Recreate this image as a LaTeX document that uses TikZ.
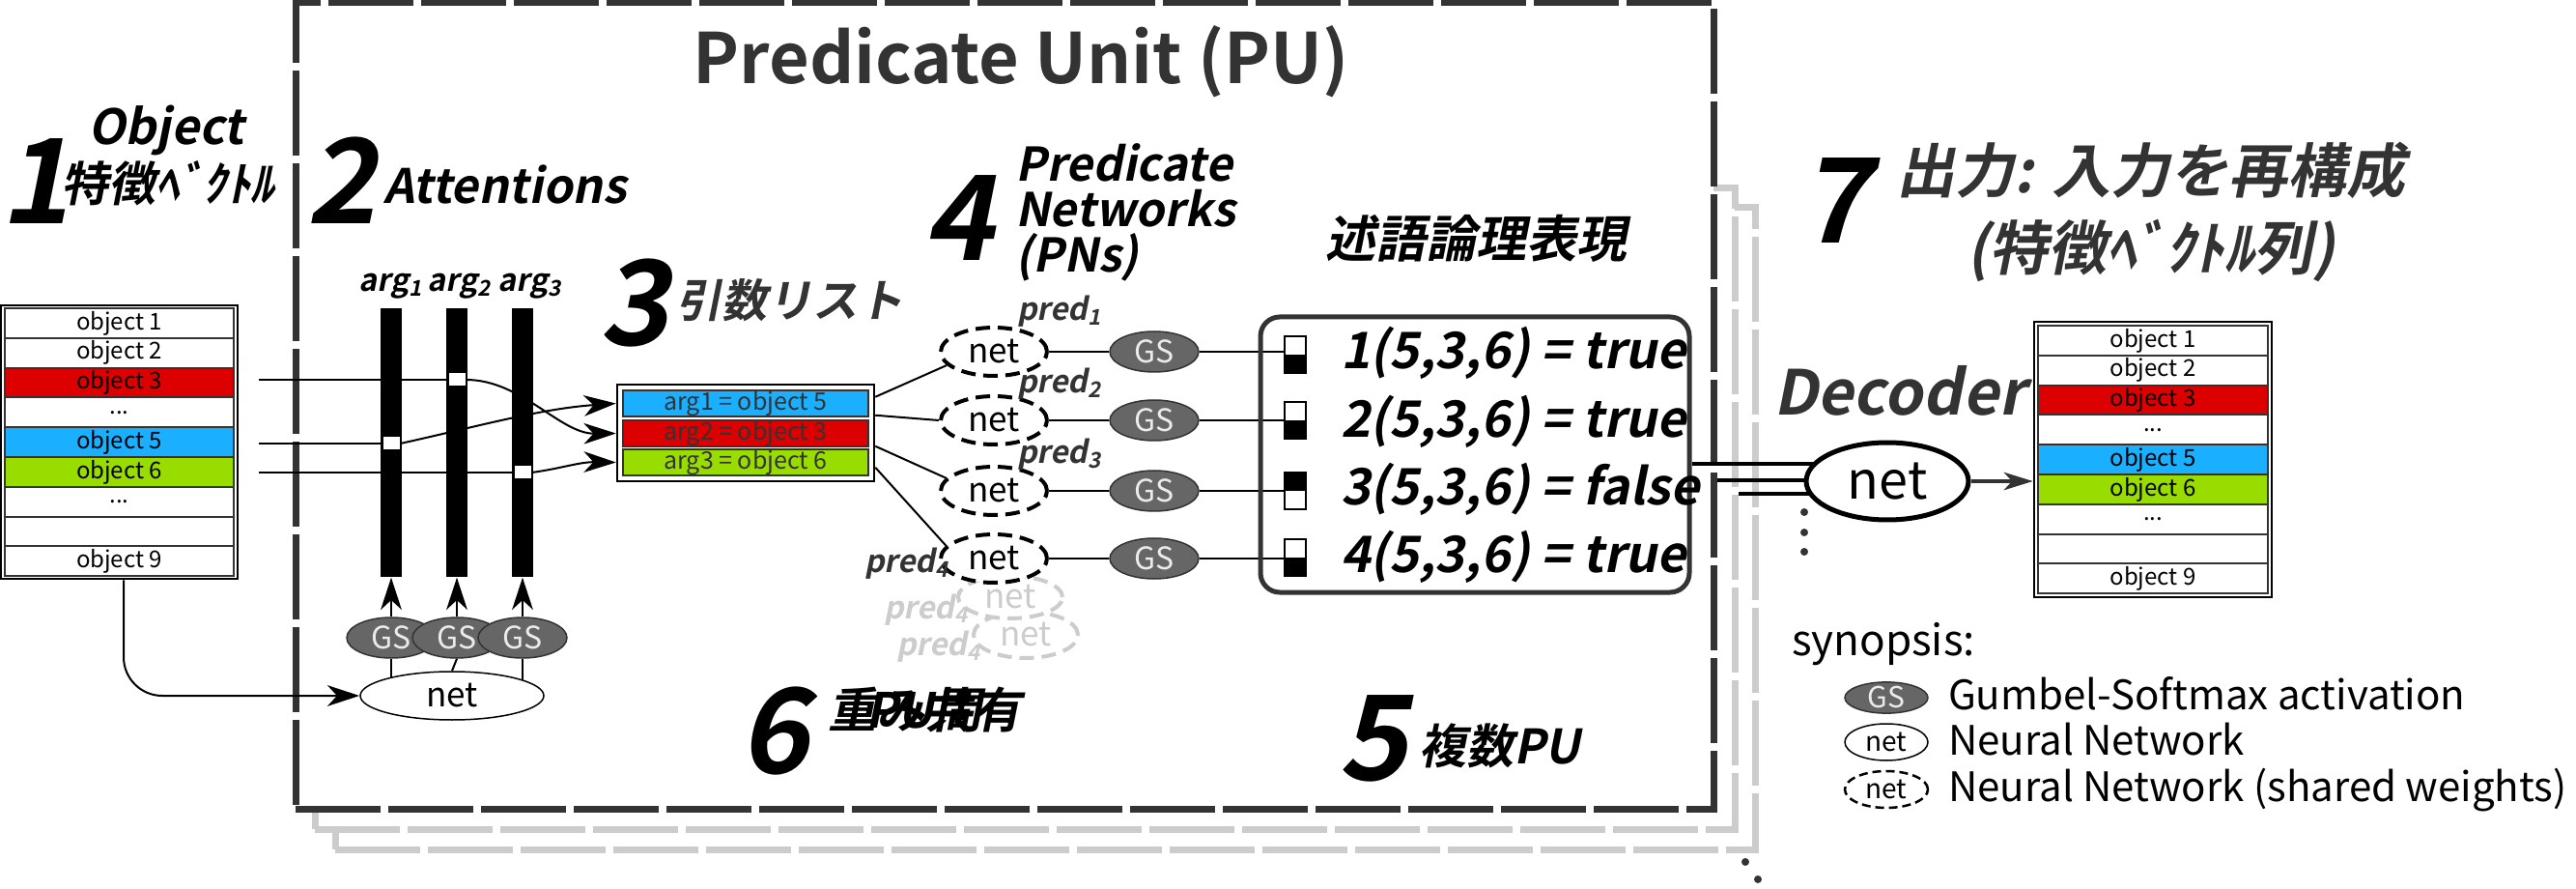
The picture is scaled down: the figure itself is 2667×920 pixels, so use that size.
\documentclass[tikz,border=0pt]{standalone}
\usepackage{fontspec}
\setmainfont{Noto Sans CJK JP}
\newfontfamily\jpr{Noto Sans CJK JP}
\newfontfamily\jpb{Noto Sans CJK JP Bold}
\newfontfamily\jpbi{Noto Sans CJK JP Bold}[FakeSlant=0.2]
\usetikzlibrary{arrows.meta,calc,shapes.geometric}
\newdimen\px \px=0.3pt
\newcommand\fsz[1]{\fontsize{\dimexpr #1\px\relax}{\dimexpr #1\px*6/5\relax}\selectfont}
\newcommand\tdots{...}
\definecolor{dk}{HTML}{333333}
\definecolor{gsf}{HTML}{666666}
\definecolor{lg}{HTML}{CCCCCC}
\definecolor{cred}{HTML}{DD0000}
\definecolor{cblue}{HTML}{1AAFFF}
\definecolor{cgreen}{HTML}{99DD00}
\tikzset{
  T/.style={inner sep=0pt, outer sep=0pt, anchor=base west},
  num/.style={T, font=\jpbi\fsz{122}},
  puframe/.style={rectangle, draw=dk, line width=7\px, dash pattern=on 26.4pt off 2.4pt, inner sep=0pt},
  row/.style={rectangle, draw=dk, line width=2\px, minimum width=237\px, minimum height=30.8\px, inner sep=0pt, font=\jpr\fsz{24}},
  boxframe/.style={rectangle, draw=black, line width=2.5\px, inner sep=0pt},
  bar/.style={rectangle, fill=black, minimum width=22\px, minimum height=278\px, inner sep=0pt},
  sq/.style={rectangle, fill=white, draw=black, line width=1\px, minimum width=18\px, minimum height=14\px, inner sep=0pt},
  argrow/.style={rectangle, draw=dk, line width=2\px, minimum width=254\px, minimum height=27\px, inner sep=0pt, text=dk, font=\jpr\fsz{25}},
  conn/.style={draw=black, line width=2\px},
  arr/.style={-{Stealth[length=10pt,width=6.5pt,inset=3pt]}},
  gs/.style={ellipse, fill=gsf, draw=dk, line width=1.5\px, text=white!92!black, font=\jpr\fsz{32}, inner sep=0pt, minimum width=92\px, minimum height=42\px},
  dnet/.style={ellipse, fill=white, draw=black, line width=4\px, dash pattern=on 4.5pt off 2.4pt, font=\jpr\fsz{35}, inner sep=0pt, minimum width=110\px, minimum height=50\px},
  snet/.style={ellipse, fill=white, draw=black, line width=1.5\px, font=\jpr\fsz{35}, inner sep=0pt},
  ind/.style={rectangle, draw=black, line width=2\px, minimum width=22\px, minimum height=38\px, inner sep=0pt},
  indtrue/.style={ind, path picture={\fill[black] (path picture bounding box.south west) rectangle (path picture bounding box.east);}},
  indfalse/.style={ind, path picture={\fill[black] (path picture bounding box.north west) rectangle (path picture bounding box.east);}},
  pred/.style={T, font=\jpbi\fsz{32}, text=dk},
  ptext/.style={T, font=\jpbi\fsz{52}},
  dot/.style={circle, fill=dk, inner sep=0pt, minimum size=8\px},
  legt/.style={T, font=\jpr\fsz{42}},
}
\begin{document}
\begin{tikzpicture}[x=0.3pt,y=-0.3pt]
\useasboundingbox (0,0) rectangle (2667,920);

% ---- stacked PU frames ----
\node[puframe, draw=lg, fill=white, minimum width=1470\px, minimum height=664\px] (pu3) at (1082,547) {};
\node[puframe, draw=lg, fill=white, minimum width=1470\px, minimum height=663\px] (pu2) at (1061,526.5) {};
\node[puframe, fill=white, minimum width=1468\px, minimum height=834\px] (pu) at (1040,420) {};
\node[dot] (dd1) at (1807,892) {};
\node[dot] (dd2) at (1820,910) {};

% ---- headings ----
\node[anchor=base, inner sep=0pt, font=\jpb\fsz{72}, text=dk] (title) at (1057,87) {Predicate Unit (PU)};
\node[num] (n1) at (0,232) {1};
\node[anchor=base, inner sep=0pt, font=\jpbi\fsz{50}] (h1a) at (172,150) {Object};
\node[anchor=base, inner sep=0pt, font=\jpbi\fsz{49}] (h1b) at (174,209) {特徴ﾍﾞｸﾄﾙ};
\node[num] (n2) at (317,232) {2};
\node[T, font=\jpbi\fsz{49}] (h2) at (397,211) {Attentions};
\node[num] (n3) at (620,358) {3};
\node[T, font=\jpbi\fsz{47}, text=dk] (h3) at (700,329) {引数リスト};
\node[num] (n4) at (956,270) {4};
\node[T, font=\jpbi\fsz{48}] (pn1) at (1051,188) {Predicate};
\node[T, font=\jpbi\fsz{48}] (pn2) at (1051,235) {Networks};
\node[T, font=\jpbi\fsz{48}] (pn3) at (1051,282) {(PNs)};
\node[anchor=base, inner sep=0pt, font=\jpbi\fsz{52}] (hlog) at (1528,267) {述語論理表現};
\node[num] (n5) at (1385,807) {5};
\node[T, font=\jpbi\fsz{49}] (h5) at (1469,790) {複数PU};
\node[num] (n6) at (765,800) {6};
\node[T, font=\jpbi\fsz{50}] (h6) at (857,753) {重み共有};
\node[T, font=\jpbi\fsz{50}] (h6b) at (896,753) {PU間};
\node[num] (n7) at (1863,252) {7};
\node[anchor=base, inner sep=0pt, font=\jpbi\fsz{61}, text=dk] (h7a) at (2227,200) {出力: 入力を再構成};
\node[anchor=base, inner sep=0pt, font=\jpbi\fsz{61}, text=dk] (h7b) at (2227,280) {(特徴ﾍﾞｸﾄﾙ列)};
\node[T, font=\jpbi\fsz{64}, text=dk] (hdec) at (1836,430) {Decoder};

% ---- input objects ----
\node[boxframe, minimum width=245\px, minimum height=283\px] (objL) at (123.5,457.5) {};
\foreach \i/\t/\c in {1/object 1/white,2/object 2/white,3/object 3/cred,4/\tdots/white,5/object 5/cblue,6/object 6/cgreen,7/\tdots/white,8/{}/white,9/object 9/white}
  \node[row, fill=\c] (oL\i) at (123.5,{319+30.8*(\i-0.5)}) {\t};

% ---- attention bars ----
\node[bar] (b1) at (405,458) {};
\node[bar] (b2) at (473,458) {};
\node[bar] (b3) at (541,458) {};
\node[T, anchor=base, font=\jpbi\fsz{32}] (al1) at (405,302) {arg\textsubscript{1}};
\node[T, anchor=base, font=\jpbi\fsz{32}] (al2) at (476,302) {arg\textsubscript{2}};
\node[T, anchor=base, font=\jpbi\fsz{32}] (al3) at (549,302) {arg\textsubscript{3}};

% ---- argument list ----
\node[boxframe, minimum width=266\px, minimum height=100\px] (argbox) at (772,448) {};
\node[argrow, fill=cblue] (a1) at (772,417.5) {arg1 = object 5};
\node[argrow, fill=cred] (a2) at (772,448.5) {arg2 = object 3};
\node[argrow, fill=cgreen] (a3) at (772,478.5) {arg3 = object 6};

\coordinate (e3) at (268,393);
\coordinate (e5) at (268,459);
\coordinate (e6) at (268,489);
\node[sq] (s1) at (405,459) {};
\node[sq] (s2) at (473,393) {};
\node[sq] (s3) at (541,489) {};
\draw[conn] (e3) -- (s2.west);
\draw[conn] (e5) -- (s1.west);
\draw[conn] (e6) -- (s3.west);
\draw[conn, arr] (s1.east) .. controls (500,440) and (560,423) .. (argbox.west |- a1);
\draw[conn, arr] (s2.east) .. controls (540,393) and (580,449) .. (argbox.west |- a2);
\draw[conn, arr] (s3.east) .. controls (580,485) and (600,478) .. (argbox.west |- a3);
\node[sq] at (s1) {};
\node[sq] at (s2) {};
\node[sq] at (s3) {};

% ---- attention net and GS ----
\node[snet, minimum width=190\px, minimum height=50\px] (netA) at (468,720) {net};
\node[gs] (gsa1) at (405,660) {GS};
\node[gs] (gsa2) at (473,660) {GS};
\node[gs] (gsa3) at (541,660) {GS};
\draw[conn] (gsa1.south) -- (gsa1.south |- netA.163);
\draw[conn] (gsa2.south) -- (netA.north);
\draw[conn] (gsa3.south) -- (gsa3.south |- netA.12);
\draw[conn, arr] (gsa1) -- (b1);
\draw[conn, arr] (gsa2) -- (b2);
\draw[conn, arr] (gsa3) -- (b3);
\draw[conn, arr, rounded corners=12pt] ([xshift=1.35pt]objL.south) |- (netA.west);

% ---- predicate networks ----
\node[dnet, draw=lg, text=lg, minimum width=108\px, minimum height=48\px] (g2) at (1062,657) {net};
\node[dnet, draw=lg, text=lg, minimum width=108\px, minimum height=44\px] (g1) at (1046,618) {net};
\node[pred, text=lg] (gl2) at (928,678) {pred\textsubscript{4}};
\node[pred, text=lg] (gl1) at (915,640) {pred\textsubscript{4}};
\node[dnet] (net1) at (1029,364) {net};
\node[dnet] (net2) at (1029,435) {net};
\node[dnet] (net3) at (1029,508) {net};
\node[dnet] (net4) at (1029,578) {net};
\node[pred] (pl1) at (1053,332) {pred\textsubscript{1}};
\node[pred] (pl2) at (1053,407) {pred\textsubscript{2}};
\node[pred] (pl3) at (1053,480) {pred\textsubscript{3}};
\node[pred] (pl4) at (895,593) {pred\textsubscript{4}};
\draw[conn] ([yshift=-4.2pt]argbox.north east) -- (net1.196);
\draw[conn] ([yshift=-9.9pt]argbox.north east) -- (net2.west);
\draw[conn] ([yshift=-19.5pt]argbox.north east) -- (net3.165);
\draw[conn] ([yshift=-26.1pt]argbox.north east) -- (net4.165);

\node[gs] (gs1) at (1195,364) {GS};
\node[gs] (gs2) at (1195,435) {GS};
\node[gs] (gs3) at (1195,508) {GS};
\node[gs] (gs4) at (1195,578) {GS};
\node[indtrue] (i1) at (1341,367) {};
\node[indtrue] (i2) at (1341,435) {};
\node[indfalse] (i3) at (1341,508) {};
\node[indtrue] (i4) at (1341,577) {};
\foreach \k in {1,2,3,4} {
  \draw[conn] (net\k) -- (gs\k);
  \draw[conn] (gs\k) -- (gs\k -| i\k.west);
}

% ---- predicate logic ----
\node[draw=dk, line width=5\px, rounded corners=6pt, minimum width=444\px, minimum height=285\px, inner sep=0pt] (predbox) at (1527,470.5) {};
\node[ptext] (p1) at (1388,382) {1(5,3,6) = true};
\node[ptext] (p2) at (1388,452) {2(5,3,6) = true};
\node[ptext] (p3) at (1388,523) {3(5,3,6) = false};
\node[ptext] (p4) at (1388,593) {4(5,3,6) = true};

% ---- decoder ----
\coordinate (netDc) at (1954,498);
\draw[line width=4\px] ([yshift=-2.85pt]predbox.east) -- ([yshift=-2.85pt]predbox.east -| netDc);
\draw[line width=4\px] ([yshift=-23.1pt]pu.east) -- ([yshift=-23.1pt]pu.east -| netDc);
\draw[line width=4\px] ([yshift=4.65pt]pu2.east) -- ([yshift=4.65pt]pu2.east -| netDc);
\node[snet, line width=5\px, minimum width=168\px, minimum height=80\px, font=\jpr\fsz{54}] (netD) at (netDc) {net};
\node[dot] (vd1) at (1868,530) {};
\node[dot] (vd2) at (1868,551) {};
\node[dot] (vd3) at (1868,571) {};

% ---- output objects ----
\node[boxframe, minimum width=246\px, minimum height=285\px] (objR) at (2229,475.5) {};
\foreach \i/\t/\c in {1/object 1/white,2/object 2/white,3/object 3/cred,4/\tdots/white,5/object 5/cblue,6/object 6/cgreen,7/\tdots/white,8/{}/white,9/object 9/white}
  \node[row, minimum width=238\px, fill=\c] (oR\i) at (2229,{337+30.8*(\i-0.5)}) {\t};
\draw[draw=dk, line width=4\px, -{Stealth[length=9pt,width=5.5pt,inset=2.5pt]}] (netD.east) -- (netD.east -| objR.west);

% ---- legend ----
\node[T, font=\jpr\fsz{44}] (syn) at (1855,678) {synopsis:};
\node[gs, minimum width=86\px, minimum height=32\px, font=\jpr\fsz{30}] (lgs) at (1953,722) {GS};
\node[snet, minimum width=86\px, minimum height=38\px, font=\jpr\fsz{28}] (lnet) at (1953,768) {net};
\node[dnet, line width=2.5\px, dash pattern=on 2.7pt off 1.5pt, minimum width=86\px, minimum height=38\px, font=\jpr\fsz{28}] (ldnet) at (1953,817) {net};
\node[legt] (lt1) at (2017,734) {Gumbel-Softmax activation};
\node[legt] (lt2) at (2017,781) {Neural Network};
\node[legt] (lt3) at (2017,829) {Neural Network (shared weights)};
\end{tikzpicture}
\end{document}
